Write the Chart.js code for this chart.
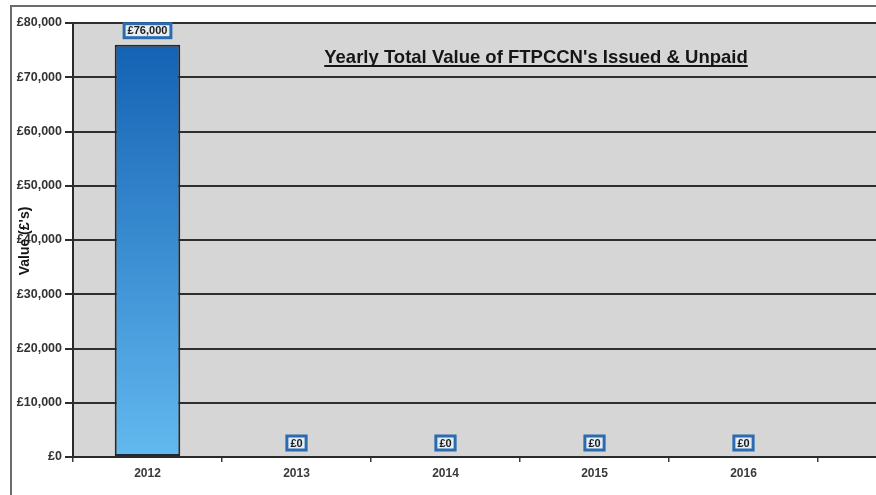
<!DOCTYPE html>
<html>
<head>
<meta charset="utf-8">
<script src="https://cdn.jsdelivr.net/npm/chart.js@4/dist/chart.umd.min.js"></script>
<style>
  html, body { margin: 0; padding: 0; background: #fff; overflow: hidden; width: 876px; height: 495px; }
  #wrap { position: relative; width: 975px; height: 495px; }
  #frame { position: absolute; left: 10px; top: 5px; width: 1000px; height: 600px; border: 2px solid #6b6b6b; box-sizing: border-box; }
  canvas { position: absolute; left: 0; top: 0; }
</style>
</head>
<body>
<div id="wrap">
  <div id="frame"></div>
  <canvas id="chart" width="975" height="495"></canvas>
</div>
<script>
const years = ['2012', '2013', '2014', '2015', '2016'];
const totalValue = [76000, 0, 0, 0, 0];
const yMin = 0, yMax = 80000, yStep = 10000;
const chartTitle = "Yearly Total Value of FTPCCN's Issued & Unpaid";
const yTitle = "Value (£'s)";

const fmt = v => '£' + v.toLocaleString('en-GB');
const FONT = "'Liberation Sans', Arial, sans-serif";
Chart.defaults.font.family = FONT;

const plotBackground = {
  id: 'plotBackground',
  beforeDraw(chart) {
    const { ctx, chartArea: a } = chart;
    ctx.save();
    ctx.fillStyle = '#d6d6d6';
    ctx.fillRect(a.left, a.top, a.right - a.left, a.bottom - a.top);
    ctx.restore();
  }
};

const overlayText = {
  id: 'overlayText',
  afterDraw(chart) {
    const { ctx, chartArea: a } = chart;
    ctx.save();
    // title sits inside the plot in the original
    ctx.font = 'bold 18.5px ' + FONT;
    ctx.fillStyle = '#161616';
    ctx.textAlign = 'center';
    ctx.textBaseline = 'alphabetic';
    const tx = a.left + 463, ty = a.top + 40;
    const w = ctx.measureText(chartTitle).width;
    ctx.fillText(chartTitle, tx, ty);
    ctx.fillRect(tx - w / 2, ty + 2, w, 2);
    // y axis title overlaps the tick labels
    ctx.font = 'bold 14px ' + FONT;
    ctx.translate(25, (a.top + a.bottom) / 2 + 1);
    ctx.rotate(-Math.PI / 2);
    ctx.textBaseline = 'middle';
    ctx.fillText(yTitle, 0, 0);
    ctx.restore();
  }
};

const valueLabels = {
  id: 'valueLabels',
  afterDatasetsDraw(chart) {
    const { ctx } = chart;
    const meta = chart.getDatasetMeta(0);
    ctx.save();
    ctx.font = 'bold 11px ' + FONT;
    ctx.textAlign = 'center';
    ctx.textBaseline = 'middle';
    meta.data.forEach((bar, i) => {
      const txt = fmt(totalValue[i]);
      const w = ctx.measureText(txt).width + 10;
      const h = 17;
      const cx = bar.x, cy = bar.y - 14;
      ctx.fillStyle = '#2b6cb0';
      ctx.fillRect(cx - w / 2, cy - h / 2, w, h);
      ctx.fillStyle = '#e6edf5';
      ctx.fillRect(cx - w / 2 + 3, cy - h / 2 + 3, w - 6, h - 6);
      ctx.fillStyle = '#1c1c1c';
      ctx.fillText(txt, cx, cy + 0.5);
    });
    ctx.restore();
  }
};

new Chart(document.getElementById('chart'), {
  type: 'bar',
  data: {
    labels: years,
    datasets: [{
      label: 'Total Value',
      data: totalValue,
      backgroundColor(context) {
        const { chart } = context;
        if (!chart.chartArea) return '#2f85d0';
        const y = chart.scales.y;
        const g = chart.ctx.createLinearGradient(0, y.getPixelForValue(76000), 0, y.getPixelForValue(0));
        g.addColorStop(0, '#1462b4');
        g.addColorStop(1, '#62b9ef');
        return g;
      },
      borderColor: '#1f2a36',
      borderWidth: 2,
      borderSkipped: false,
      barPercentage: 0.44,
      categoryPercentage: 1
    }]
  },
  options: {
    responsive: false,
    animation: false,
    devicePixelRatio: 1,
    layout: { padding: { top: 23, left: 0, right: 8, bottom: 0 } },
    plugins: { legend: { display: false }, tooltip: { enabled: false }, title: { display: false } },
    scales: {
      x: {
        labels: [...years, ''],
        offset: true,
        afterFit(scale) { scale.height = 38; },
        grid: { drawOnChartArea: false, drawTicks: true, tickLength: 5, color: '#3a3a3a', lineWidth: 1.5 },
        border: { color: '#2a2a2a', width: 2 },
        ticks: { color: '#3a3a3a', font: { size: 12, weight: 'bold' }, padding: 4 }
      },
      y: {
        min: yMin,
        max: yMax,
        afterFit(scale) { scale.width = 73; },
        grid: { color: '#2e2e2e', lineWidth: 2, tickLength: 8 },
        border: { color: '#2a2a2a', width: 2 },
        ticks: {
          stepSize: yStep,
          color: '#333',
          padding: 3,
          font: { size: 12.5, weight: 'bold' },
          callback: v => fmt(v)
        }
      }
    }
  },
  plugins: [plotBackground, valueLabels, overlayText]
});
</script>
</body>
</html>
